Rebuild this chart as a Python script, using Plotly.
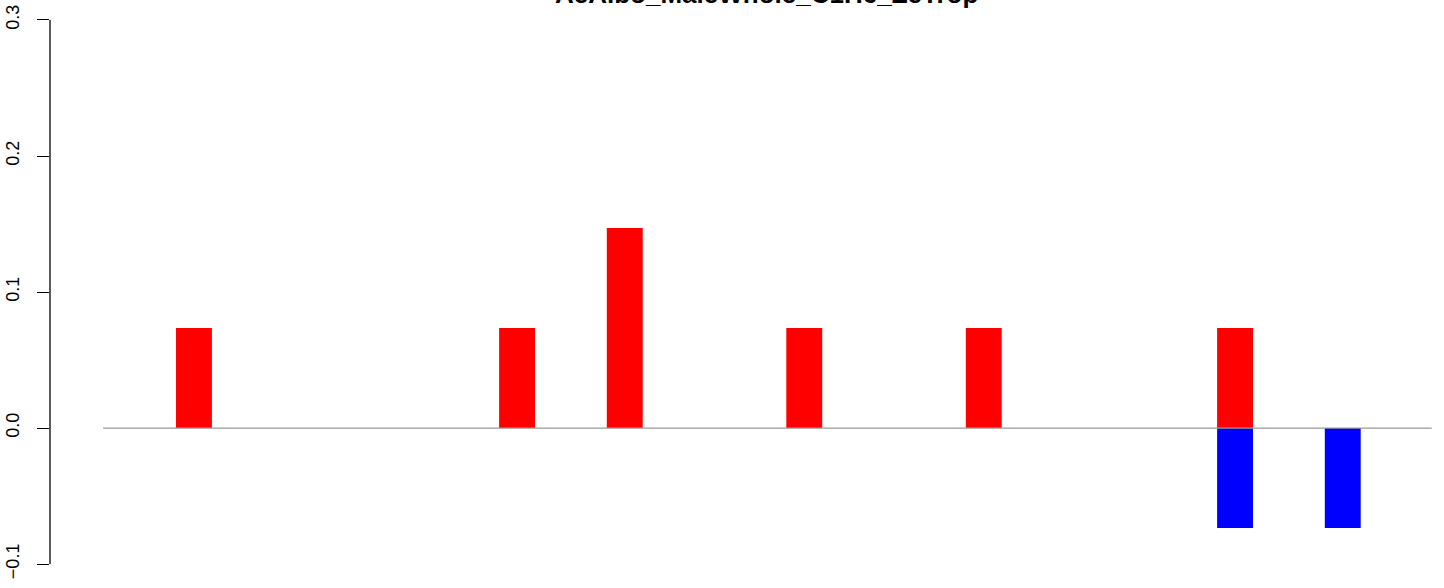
import plotly.graph_objects as go

# Data
title_text = "AeAlbo_MaleWhole_C1H6_ZeTrop"
pos_bins = [0, 9, 12, 17, 22, 29]
pos_values = [0.0735, 0.0735, 0.147, 0.0735, 0.0735, 0.0735]
neg_bins = [29, 32]
neg_values = [-0.0735, -0.0735]
y_ticks = [-0.1, 0.0, 0.1, 0.2, 0.3]
y_tick_labels = ["\u22120.1", "0.0", "0.1", "0.2", "0.3"]

font_family = "Liberation Sans, Arial, Helvetica, sans-serif"

fig = go.Figure()
fig.add_trace(go.Bar(x=pos_bins, y=pos_values, marker=dict(color="#FF0000", line=dict(width=0)),
                     width=1.0, showlegend=False))
fig.add_trace(go.Bar(x=neg_bins, y=neg_values, marker=dict(color="#0000FF", line=dict(width=0)),
                     width=1.0, showlegend=False))

# zero reference line
fig.add_shape(type="line", xref="x", yref="y", x0=-2.53, x1=34.48, y0=0, y1=0,
              line=dict(color="#999999", width=1.3), layer="above")

# y-axis spine restricted to tick range
fig.add_shape(type="line", xref="paper", yref="y", x0=0, x1=0, y0=-0.1, y1=0.3,
              line=dict(color="black", width=1.3))

fig.add_annotation(text="<b>" + title_text + "</b>", xref="paper", yref="paper",
                   x=0.514, y=1.0102, xanchor="center", yanchor="middle",
                   showarrow=False, font=dict(family=font_family, size=26, color="black"))

fig.update_layout(
    width=1444, height=588,
    margin=dict(l=50, r=0, t=0, b=0, autoexpand=False),
    paper_bgcolor="white", plot_bgcolor="white",
    barmode="overlay",
    xaxis=dict(range=[-4.01, 34.82], visible=False, fixedrange=True, automargin=False),
    yaxis=dict(range=[-0.1176, 0.3147], tickvals=y_ticks, ticktext=y_tick_labels,
               ticks="outside", ticklen=12, tickwidth=1.3, tickcolor="black",
               tickangle=-90, showgrid=False, zeroline=False, showline=False,
               automargin=False, ticklabelstandoff=11,
               tickfont=dict(family=font_family, size=18, color="black")),
    font=dict(family=font_family),
)

fig.write_html(
    "out.html",
    config={"displayModeBar": False},
    post_script="document.body.style.margin='0';document.body.style.overflow='hidden';",
)
